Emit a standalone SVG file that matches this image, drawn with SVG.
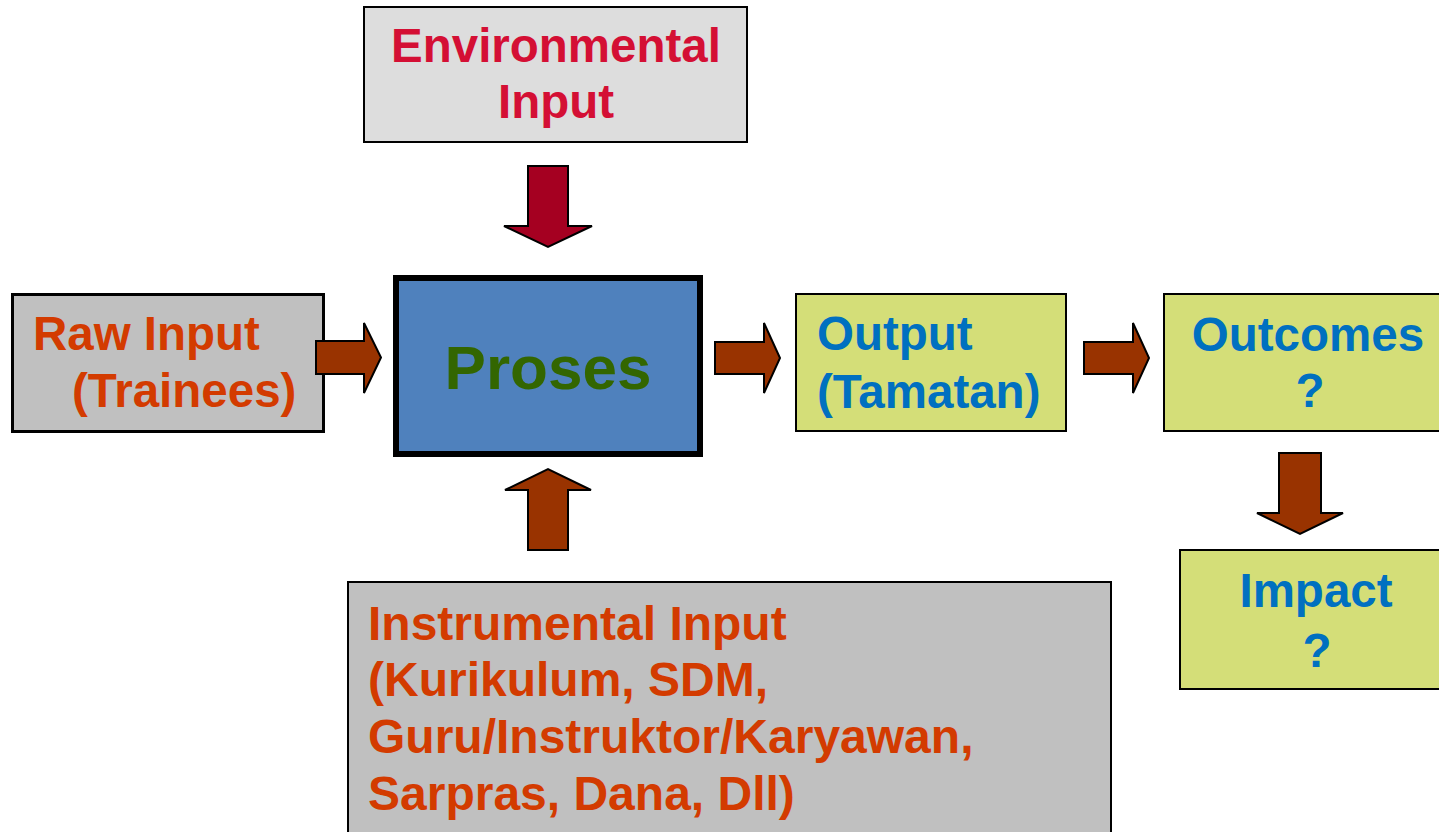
<svg xmlns="http://www.w3.org/2000/svg" width="1439" height="832" viewBox="0 0 1439 832">
  <style>
    text { font-family: "Liberation Sans", Arial, sans-serif; font-weight: bold; font-size: 47.5px; }
    .box { stroke: #000; stroke-width: 2; }
    .grey { fill: #c0c0c0; }
    .lime { fill: #d4de78; }
    .red { fill: #d40f34; }
    .orange { fill: #d33b00; }
    .blue { fill: #0070c0; }
    .arr { fill: #993300; stroke: #000; stroke-width: 2; stroke-linejoin: miter; }
    .mid { text-anchor: middle; }
  </style>
  <rect width="1439" height="832" fill="#ffffff"/>

  <g id="environmental">
    <rect class="box" x="364" y="7" width="383" height="135" fill="#dddddd"/>
    <text class="red mid" x="556" y="62">Environmental</text>
    <text class="red mid" x="556" y="118">Input</text>
  </g>

  <g id="raw-input">
    <rect x="12.5" y="294.5" width="311" height="137" class="grey" stroke="#000" stroke-width="3"/>
    <text class="orange" x="33" y="350">Raw Input</text>
    <text class="orange" x="72" y="407">(Trainees)</text>
  </g>

  <g id="proses">
    <rect x="396" y="278" width="304" height="176" fill="#4f81bd" stroke="#000" stroke-width="6"/>
    <text class="mid" x="548" y="389" style="font-size:62px" fill="#336600">Proses</text>
  </g>

  <g id="output">
    <rect class="box lime" x="796" y="294" width="270" height="137"/>
    <text class="blue" x="817" y="350">Output</text>
    <text class="blue" x="817" y="408">(Tamatan)</text>
  </g>

  <g id="outcomes">
    <rect class="box lime" x="1164" y="294" width="300" height="137"/>
    <text class="blue mid" x="1308" y="351">Outcomes</text>
    <text class="blue mid" x="1310" y="407">?</text>
  </g>

  <g id="impact">
    <rect class="box lime" x="1180" y="550" width="300" height="139"/>
    <text class="blue mid" x="1316" y="607">Impact</text>
    <text class="blue mid" x="1317" y="667">?</text>
  </g>

  <g id="instrumental">
    <rect class="box grey" x="348" y="582" width="763" height="300"/>
    <text class="orange" x="368" y="640" style="font-size:48px">Instrumental Input</text>
    <text class="orange" x="368" y="696" style="font-size:48px">(Kurikulum, SDM,</text>
    <text class="orange" x="368" y="753" style="font-size:48px">Guru/Instruktor/Karyawan,</text>
    <text class="orange" x="368" y="810" style="font-size:48px">Sarpras, Dana, Dll)</text>
  </g>

  <g id="connectors">
    <polygon class="arr" style="fill:#a50021" points="528,166 568,166 568,226 592,226 548,247 504,226 528,226"/>
    <polygon class="arr" points="316,341 364,341 364,323 381,357.5 364,393 364,374 316,374"/>
    <polygon class="arr" points="715,342 764,342 764,323 780,358 764,393 764,374 715,374"/>
    <polygon class="arr" points="1084,342 1133,342 1133,323 1149,358 1133,393 1133,374 1084,374"/>
    <polygon class="arr" points="1279,453 1321,453 1321,513 1343,513 1300,534 1257,513 1279,513"/>
    <polygon class="arr" points="528,550 568,550 568,490 591,490 548,469 505,490 528,490"/>
  </g>
</svg>
